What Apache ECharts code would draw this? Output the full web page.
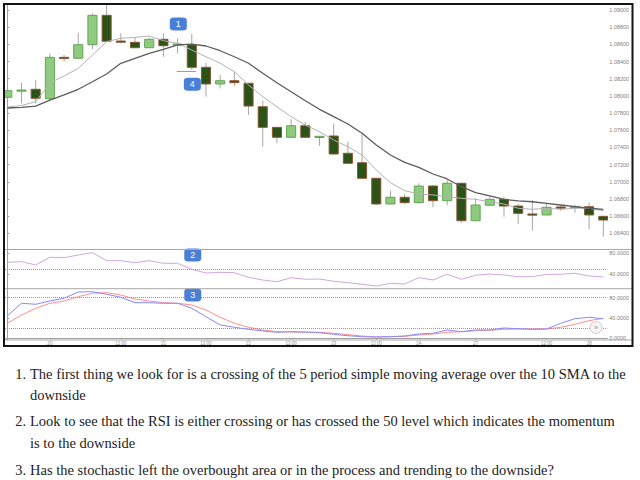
<!DOCTYPE html>
<html><head><meta charset="utf-8">
<script src="https://cdn.jsdelivr.net/npm/echarts@6/dist/echarts.min.js"></script>
<style>html,body{margin:0;padding:0;background:#fff}#c{width:640px;height:480px}</style>
</head><body><div id="c"></div>
<script>
// ---- data (one entry per candle, index 0..42) ----
const opens  = [1.07984,1.08063,1.08077,1.07967,1.08449,1.08438,1.08596,1.08938,1.08639,1.08624,1.08561,1.08659,1.08596,1.08593,1.08333,1.08139,1.08177,1.08147,1.07874,1.07634,1.07518,1.07653,1.07522,1.07533,1.07332,1.07222,1.07041,1.06742,1.06820,1.06757,1.06951,1.06780,1.06983,1.06547,1.06727,1.06796,1.06718,1.06626,1.06614,1.06707,1.06707,1.06710,1.06598];
const closes = [1.08061,1.08069,1.07972,1.08449,1.08441,1.08596,1.08938,1.08636,1.08628,1.08561,1.08659,1.08584,1.08604,1.08333,1.08139,1.08177,1.08154,1.07882,1.07634,1.07518,1.07653,1.07518,1.07530,1.07324,1.07215,1.07041,1.06742,1.06820,1.06757,1.06951,1.06780,1.06983,1.06547,1.06730,1.06796,1.06718,1.06633,1.06618,1.06703,1.06700,1.06714,1.06614,1.06555];
const lows   = [1.07933,1.07914,1.07914,1.07952,1.08398,1.08436,1.08543,1.08634,1.08619,1.08559,1.08559,1.08456,1.08496,1.08302,1.07991,1.08088,1.08115,1.07778,1.07409,1.07448,1.07516,1.07516,1.07420,1.07312,1.07213,1.07039,1.06730,1.06740,1.06742,1.06750,1.06703,1.06730,1.06524,1.06545,1.06725,1.06594,1.06509,1.06431,1.06612,1.06664,1.06640,1.06447,1.06361];
const highs  = [1.08115,1.08154,1.08185,1.08496,1.08476,1.08736,1.08962,1.09082,1.08729,1.08682,1.08678,1.08729,1.08671,1.08721,1.08387,1.08243,1.08282,1.08149,1.07944,1.07636,1.07731,1.07700,1.07533,1.07681,1.07467,1.07557,1.07043,1.06897,1.06858,1.06983,1.06963,1.07021,1.06990,1.06808,1.06827,1.06827,1.06742,1.06788,1.06757,1.06718,1.06730,1.06757,1.06600];
const sma5   = [1.07871,1.07888,1.07933,1.08150,1.08232,1.08321,1.08476,1.08631,1.08671,1.08682,1.08697,1.08643,1.08612,1.08534,1.08456,1.08380,1.08282,1.08127,1.07991,1.07874,1.07758,1.07661,1.07583,1.07487,1.07409,1.07312,1.07137,1.06990,1.06897,1.06858,1.06847,1.06827,1.06808,1.06796,1.06768,1.06742,1.06692,1.06680,1.06692,1.06680,1.06692,1.06692,1.06664];
const sma10  = [1.07859,1.07867,1.07882,1.07952,1.08011,1.08077,1.08165,1.08255,1.08380,1.08438,1.08496,1.08543,1.08593,1.08604,1.08581,1.08526,1.08456,1.08380,1.08263,1.08154,1.08049,1.07944,1.07844,1.07758,1.07673,1.07565,1.07429,1.07312,1.07227,1.07169,1.07091,1.07033,1.06943,1.06873,1.06835,1.06796,1.06777,1.06768,1.06750,1.06730,1.06710,1.06692,1.06680];
const rsi    = [62.6,63.8,57.4,72.3,71.5,76.7,81.2,65.7,65.7,61.8,65.7,60.7,60.7,49.1,41.9,43.3,42.5,33.6,28.4,25.1,32.9,29.8,30.3,25.9,23.2,20.1,16.8,22.0,20.7,32.9,28.4,39.4,29.8,37.5,40.0,38.1,34.8,34.8,39.4,39.4,41.4,36.1,34.2];
const stochK = [43.9,69.0,67.0,73.5,78.8,91.2,91.8,86.7,80.8,70.1,70.1,69.0,69.0,59.1,42.6,26.2,21.7,17.7,14.4,11.8,13.0,12.4,11.0,7.9,5.1,3.2,2.6,3.2,4.5,8.5,9.9,16.4,13.0,16.4,16.4,20.3,18.9,17.7,18.3,29.6,38.6,41.4,38.6];
const stochD = [29.6,45.9,59.1,69.0,73.5,82.0,88.7,89.9,85.3,77.4,73.5,70.1,69.0,65.6,55.8,41.4,29.6,21.7,16.4,13.0,12.4,11.8,11.8,9.9,7.1,4.5,2.6,3.2,3.9,6.5,8.5,11.8,13.0,15.0,15.8,17.7,18.3,18.3,18.3,21.7,27.6,34.7,39.4];

// ---- tick labels ----
const priceTicks = [1.064,1.066,1.068,1.070,1.072,1.074,1.076,1.078,1.080,1.082,1.084,1.086,1.088,1.090];
const oscTicks = [40,80];
const stochTicks = [0,40,80];
const rsiLevels = [50];
const stochLevels = [80,20];
const timeTickIdx = [3,8,11,14,17,20,23,26,29,33,38,41];
const timeTickLabels = ['20','12:00','21','12:00','22','12:00','23','12:00','24','27','12:00','28'];

// ---- annotations (data coordinates) ----
const notePrice = [{name:'1', coord:[12.05,1.08837]},{name:'4', coord:[13.04,1.08135]}];
const noteRsi = [{name:'2', coord:[13.07,76.7]}];
const noteStoch = [{name:'3', coord:[13.07,85.3]}];
const supportSeg = [[{coord:[11.94,1.08282]},{coord:[13.30,1.08282]}]];

// ---- text below the chart ----
const listMarks = ['1.','2.','3.'];
const listLines = [
  ['The first thing we look for is a crossing of the 5 period simple moving average over the 10 SMA to the','downside'],
  ['Look to see that the RSI is either crossing or has crossed the 50 level which indicates the momentum','is to the downside'],
  ['Has the stochastic left the overbought area or in the process and trending to the downside?']
];

const X_MIN = -0.162, X_MAX = 42.28;
const idx = a => a.map((v,i)=>[i,v]);
const candleData = opens.map((o,i)=>[i,o,closes[i],lows[i],highs[i]]);
const lastClose = closes[closes.length-1];

function renderCandle(params, api){
  const i = api.value(0), o = api.value(1), c = api.value(2), lo = api.value(3), hi = api.value(4);
  const pO = api.coord([i,o]), pC = api.coord([i,c]), pL = api.coord([i,lo]), pH = api.coord([i,hi]);
  const w = api.size([1,0])[0]*0.64;
  const up = c >= o;
  const top = Math.min(pO[1], pC[1]);
  const h = Math.max(Math.abs(pO[1]-pC[1]), 1.2);
  return {type:'group', children:[
    {type:'line', shape:{x1:pH[0], y1:pH[1], x2:pL[0], y2:pL[1]}, style:{stroke:'#a6a6a6', lineWidth:1}},
    {type:'rect', shape:{x:pO[0]-w/2, y:top, width:w, height:h},
     style:{fill: up?'#8fcb7e':'#2b5217', stroke: up?'#64a455':'#8d5634', lineWidth:1}}
  ]};
}

const noteLabel = {symbol:'roundRect', symbolSize:[17,13], itemStyle:{color:'#4a7fd8'},
  label:{show:true, formatter:'{b}', color:'#fff', fontSize:9, fontFamily:'Arial'}};
const axisGray = '#a0a0a0';
function yAx(grid, min, max, ticks, dec){
  return {gridIndex:grid, type:'value', position:'right', min:min, max:max,
    axisLine:{show:true, lineStyle:{color:axisGray}},
    axisTick:{show:true, length:2, customValues:ticks, lineStyle:{color:axisGray}},
    axisLabel:{customValues:ticks, fontSize:5.5, color:'#808080', margin:2, fontFamily:'Arial',
      formatter:v=>Number(v).toFixed(dec)},
    splitLine:{show:false}};
}
function xAx(grid, show){
  return {gridIndex:grid, type:'value', min:X_MIN, max:X_MAX, show:true,
    axisLine:{show:show, lineStyle:{color:axisGray}},
    axisTick:{show:show, length:1.5, customValues:timeTickIdx, lineStyle:{color:axisGray}},
    axisLabel:{show:show, customValues:timeTickIdx, fontSize:4.5, color:'#909090', margin:1, fontFamily:'Arial',
      formatter:v=>{const k=timeTickIdx.indexOf(Math.round(v)); return k>=0?timeTickLabels[k]:'';}},
    splitLine:{show:false}};
}
const textFont = '14.5px "Liberation Serif", serif';
const textFill = '#222';
const lineYs = [[374,395],[421,443],[470]];
const textGraphics = [];
listMarks.forEach((m,k)=>{
  textGraphics.push({type:'text', x:26, y:lineYs[k][0], style:{text:m, font:textFont, fill:textFill, align:'right', verticalAlign:'middle'}});
  listLines[k].forEach((s,j)=>{
    textGraphics.push({type:'text', x:30, y:lineYs[k][j], style:{text:s, font:textFont, fill:textFill, verticalAlign:'middle'}});
  });
});

const chart = echarts.init(document.getElementById('c'), null, {renderer:'svg'});
chart.setOption({
  animation:false,
  backgroundColor:'#fff',
  grid:[
    {left:5, top:4, width:602.3, height:245.5},
    {left:5, top:249.5, width:602.3, height:39.2},
    {left:5, top:288.7, width:602.3, height:51.3}
  ],
  xAxis:[xAx(0,false), xAx(1,false), xAx(2,true)],
  yAxis:[
    yAx(0,1.06212,1.09070,priceTicks,5),
    yAx(1,11.6,87.3,oscTicks,4),
    yAx(2,-3.35,97.7,stochTicks,4)
  ],
  series:[
    {type:'custom', name:'price', xAxisIndex:0, yAxisIndex:0, data:candleData, renderItem:renderCandle, clip:true, z:2},
    {type:'line', name:'SMA5', xAxisIndex:0, yAxisIndex:0, data:idx(sma5), showSymbol:false, clip:true, z:3,
      lineStyle:{color:'#b2b2b2', width:1}},
    {type:'line', name:'SMA10', xAxisIndex:0, yAxisIndex:0, data:idx(sma10), showSymbol:false, clip:true, z:4,
      lineStyle:{color:'#5c5c5c', width:1.3},
      markPoint:Object.assign({data:notePrice}, noteLabel),
      markLine:{symbol:['none','none'], silent:true, label:{show:false},
        lineStyle:{color:'#9c9c9c', width:1, type:'solid'},
        data:[
          ...supportSeg,
          {yAxis:lastClose, lineStyle:{opacity:0},
           label:{show:true, position:'end', formatter:lastClose.toFixed(5), distance:0.5,
             backgroundColor:'#2e5a1d', color:'#fff', fontSize:5.5, fontFamily:'Arial', padding:[2,2,1.5,2]}}
        ]}},
    {type:'line', name:'RSI', xAxisIndex:1, yAxisIndex:1, data:idx(rsi), showSymbol:false, clip:true,
      lineStyle:{color:'#d3a5e0', width:1},
      markPoint:Object.assign({data:noteRsi}, noteLabel),
      markLine:{symbol:['none','none'], silent:true, label:{show:false},
        lineStyle:{color:'#9a9a9a', width:1, type:'dotted'}, data:rsiLevels.map(v=>({yAxis:v}))}},
    {type:'line', name:'%D', xAxisIndex:2, yAxisIndex:2, data:idx(stochD), showSymbol:false, clip:true,
      lineStyle:{color:'#ff8f8f', width:1},
      markLine:{symbol:['none','none'], silent:true, label:{show:false},
        lineStyle:{color:'#9a9a9a', width:1, type:'dotted'}, data:stochLevels.map(v=>({yAxis:v}))}},
    {type:'line', name:'%K', xAxisIndex:2, yAxisIndex:2, data:idx(stochK), showSymbol:false, clip:true,
      lineStyle:{color:'#8888ff', width:1},
      markPoint:Object.assign({data:noteStoch}, noteLabel)}
  ],
  graphic:[
    {type:'line', z:50, shape:{x1:5, y1:249.5, x2:632, y2:249.5}, style:{stroke:'#a8a8a8', lineWidth:1}},
    {type:'line', z:50, shape:{x1:5, y1:288.7, x2:632, y2:288.7}, style:{stroke:'#a8a8a8', lineWidth:1}},
    {type:'line', z:50, shape:{x1:5, y1:340, x2:632, y2:340}, style:{stroke:'#a8a8a8', lineWidth:1}},
    {type:'circle', z:60, shape:{cx:596, cy:327.5, r:6}, style:{fill:'#f5f5f5', stroke:'#cfcfcf', lineWidth:1}},
    {type:'text', z:61, x:596, y:327.5, style:{text:'»', fill:'#9a9a9a', font:'8px Arial', align:'center', verticalAlign:'middle'}},
    {type:'rect', z:100, shape:{x:4, y:4, width:628.5, height:342}, style:{fill:'none', stroke:'#151515', lineWidth:2}},
    ...textGraphics
  ]
});
</script></body></html>
